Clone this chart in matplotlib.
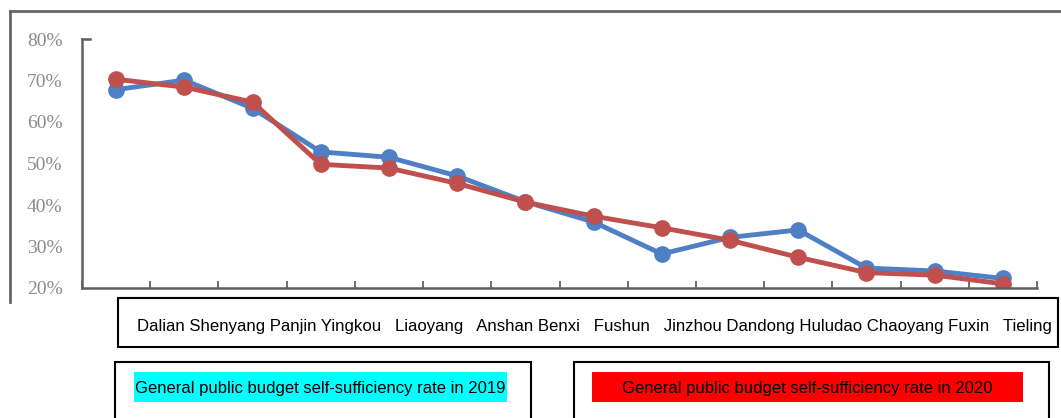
import matplotlib
matplotlib.use("Agg")
import matplotlib.pyplot as plt
from matplotlib.patches import Rectangle
from matplotlib.lines import Line2D
from matplotlib.ticker import FuncFormatter

cities = ["Dalian", "Shenyang", "Panjin", "Yingkou", "Liaoyang", "Anshan", "Benxi",
          "Fushun", "Jinzhou", "Dandong", "Huludao", "Chaoyang", "Fuxin", "Tieling"]
rate_2019 = [67.8, 70.1, 63.3, 52.8, 51.5, 47.0, 40.8, 35.9, 28.2, 32.2, 34.0, 24.8, 24.1, 22.3]
rate_2020 = [70.3, 68.4, 64.8, 49.8, 48.9, 45.2, 40.7, 37.3, 34.5, 31.5, 27.4, 23.7, 23.1, 21.0]
label_2019 = "General public budget self-sufficiency rate in 2019"
label_2020 = "General public budget self-sufficiency rate in 2020"

W, H = 1061, 418
fig = plt.figure(figsize=(W / 100, H / 100), dpi=100)


def fx(px):
    return px / W


def fy(py):
    return 1 - py / H


# main plot area
ax = fig.add_axes([fx(82), fy(288), fx(1037) - fx(82), fy(39) - fy(288)])
x = list(range(len(cities)))
ax.plot(x, rate_2019, color="#4f7fc4", lw=3.5, marker="o", ms=11, solid_joinstyle="round")
ax.plot(x, rate_2020, color="#c0504d", lw=3.5, marker="o", ms=11, solid_joinstyle="round")
ax.set_xlim(-0.5, len(cities) - 0.5)
ax.set_ylim(20, 80)
ax.set_yticks(range(20, 81, 10))
ax.yaxis.set_major_formatter(FuncFormatter(lambda v, p: f"{v:.0f}%"))
ax.set_xticks([i - 0.5 for i in range(len(cities) + 1)])
ax.set_xticklabels([])
ax.tick_params(axis="x", direction="in", length=5, width=1.2, color="#555555")
ax.tick_params(axis="y", length=0, pad=14, labelsize=14, labelcolor="#8a8a8a")
for lab in ax.get_yticklabels():
    lab.set_family("Liberation Serif")
for side in ["top", "right"]:
    ax.spines[side].set_visible(False)
for side in ["left", "bottom"]:
    ax.spines[side].set_color("#606060")
    ax.spines[side].set_linewidth(1.8)
ax.plot([-0.5, -0.38], [80, 80], color="#606060", lw=1.8, clip_on=False)

# outer frame (left and top edges)
fig.add_artist(Line2D([fx(10), fx(10)], [fy(11), fy(302)], color="#666666", lw=2))
fig.add_artist(Line2D([fx(10), fx(1061)], [fy(11), fy(11)], color="#666666", lw=2))

# category label box
fig.add_artist(Rectangle((fx(118), fy(347)), fx(1058) - fx(118), fy(298) - fy(347),
                         fill=False, ec="black", lw=1.5))
cat_text = "Dalian Shenyang Panjin Yingkou   Liaoyang   Anshan Benxi   Fushun   " \
           "Jinzhou Dandong Huludao Chaoyang Fuxin   Tieling"
fig.text(fx(137), fy(327), cat_text, ha="left", va="center", fontsize=12.1,
         family=["Liberation Sans Narrow", "Liberation Sans", "DejaVu Sans"])

# legend boxes with highlighted text
legend_specs = [
    (label_2019, "#00ffff", 115, 531, 134, 507),
    (label_2020, "#ff0000", 574, 1049, 592, 1023),
]
for text, hl, bx0, bx1, hx0, hx1 in legend_specs:
    fig.add_artist(Rectangle((fx(bx0), fy(425)), fx(bx1) - fx(bx0), fy(362) - fy(425),
                             fill=False, ec="black", lw=1.5))
    fig.add_artist(Rectangle((fx(hx0), fy(402)), fx(hx1) - fx(hx0), fy(372) - fy(402),
                             fc=hl, ec="none"))
    fig.text(fx((hx0 + hx1) / 2), fy(388), text, ha="center", va="center", fontsize=12,
             family=["Liberation Sans Narrow", "Liberation Sans", "DejaVu Sans"])

fig.savefig("out.png", dpi=100)
